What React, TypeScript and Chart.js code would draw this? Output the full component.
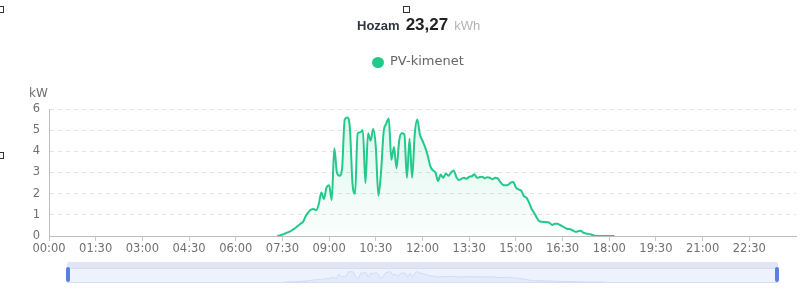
import React, { useEffect, useRef } from 'react';
import { Chart, registerables } from 'chart.js';

Chart.register(...registerables);

// time categories every 5 minutes, 00:00 .. 24:00
const timeLabels: string[] = Array.from({ length: 289 }, (_, i) => {
  const m = i * 5;
  const hh = String(Math.floor(m / 60)).padStart(2, '0');
  const mm = String(m % 60).padStart(2, '0');
  return `${hh}:${mm}`;
});

// PV output starts at 07:20 (index 88)
const pvStartIndex = 88;
const pvValues: number[] = [
  0, 0.03, 0.07, 0.12, 0.17, 0.22, 0.3, 0.38, 0.48, 0.58,
  0.68, 0.95, 1.12, 1.25, 1.27, 1.22, 1.5, 2.05, 1.75, 2.3,
  2.4, 1.7, 4.15, 3.0, 2.85, 3.2, 5.5, 5.6, 5.1, 2.5,
  2.0, 4.85, 4.9, 5.0, 2.5, 4.85, 4.5, 5.05, 4.2, 1.9,
  3.0, 4.9, 5.3, 5.55, 3.6, 4.2, 3.2, 4.5, 4.85, 4.8,
  2.75, 4.6, 2.75, 4.8, 5.5, 4.8, 4.5, 4.2, 3.8, 3.3,
  3.1, 3.0, 2.6, 2.9, 2.75, 2.95, 2.85, 3.0, 3.1, 2.8,
  2.65, 2.7, 2.75, 2.7, 2.8, 2.82, 2.92, 2.75, 2.78, 2.8,
  2.72, 2.78, 2.75, 2.68, 2.75, 2.72, 2.55, 2.42, 2.4, 2.42,
  2.52, 2.55, 2.3, 2.2, 2.15, 1.9, 1.82, 1.6, 1.3, 1.1,
  0.88, 0.7, 0.67, 0.66, 0.65, 0.62, 0.52, 0.58, 0.58, 0.52,
  0.45, 0.38, 0.33, 0.32, 0.26, 0.2, 0.22, 0.25, 0.16, 0.12,
  0.1, 0.07, 0.03, 0, 0, 0, 0, 0, 0, 0, 0,
];

const yTicks: number[] = [0, 1, 2, 3, 4, 5, 6];
const seriesName = 'PV-kimenet';
const totalLabel = 'Hozam';
const totalValue = '23,27';
const totalUnit = 'kWh';
const yUnit = 'kW';

const GREEN = '#22c98a';

function buildSeries(): (number | null)[] {
  return timeLabels.map((_, i) => {
    const k = i - pvStartIndex;
    return k >= 0 && k < pvValues.length ? pvValues[k] : null;
  });
}

export default function App() {
  const mainRef = useRef<HTMLCanvasElement | null>(null);
  const miniRef = useRef<HTMLCanvasElement | null>(null);

  useEffect(() => {
    const series = buildSeries();
    const main = new Chart(mainRef.current!, {
      type: 'line',
      data: {
        labels: timeLabels,
        datasets: [
          {
            label: seriesName,
            data: series,
            borderColor: GREEN,
            borderWidth: 2,
            pointRadius: 0,
            cubicInterpolationMode: 'monotone',
            spanGaps: false,
            fill: 'origin',
            backgroundColor: (ctx: any) => {
              const area = ctx.chart.chartArea;
              if (!area) return 'rgba(34,201,138,0.08)';
              const g = ctx.chart.ctx.createLinearGradient(0, area.top, 0, area.bottom);
              g.addColorStop(0, 'rgba(34,201,138,0.16)');
              g.addColorStop(1, 'rgba(34,201,138,0.02)');
              return g;
            },
          },
        ],
      },
      options: {
        responsive: false,
        animation: false,
        layout: { padding: { top: 109, right: 4, left: 0, bottom: 0 } },
        plugins: { legend: { display: false }, tooltip: { enabled: false }, title: { display: false } },
        scales: {
          x: {
            type: 'category',
            offset: false,
            afterFit: (s: any) => { s.height = 54; },
            grid: { drawOnChartArea: false, drawTicks: true, tickLength: 5, color: '#c8c8c8' },
            border: { display: true, color: '#bdbdbd', width: 1 },
            ticks: {
              autoSkip: false,
              maxRotation: 0,
              minRotation: 0,
              padding: 1,
              color: '#707070',
              font: { family: 'DejaVu Sans', size: 11.5 },
              callback: (_v: any, i: number) => (i % 18 === 0 && i < 288 ? timeLabels[i] : null),
            },
          },
          y: {
            min: 0,
            max: 6,
            afterFit: (s: any) => { s.width = 49; },
            afterBuildTicks: (s: any) => { s.ticks = yTicks.map((v) => ({ value: v })); },
            grid: { drawTicks: false, color: '#e3e3e3', lineWidth: 1 },
            border: { display: true, color: '#bdbdbd', width: 1, dash: [4, 4] },
            ticks: {
              padding: 9,
              color: '#707070',
              font: { family: 'DejaVu Sans', size: 11.5 },
            },
          },
        },
      },
    });

    const mini = new Chart(miniRef.current!, {
      type: 'line',
      data: {
        labels: timeLabels,
        datasets: [
          {
            data: series,
            borderColor: 'rgba(200,212,244,0.8)',
            borderWidth: 1,
            pointRadius: 0,
            fill: 'origin',
            backgroundColor: 'rgba(222,230,250,0.6)',
            cubicInterpolationMode: 'monotone',
          },
        ],
      },
      options: {
        responsive: false,
        animation: false,
        layout: { padding: 0 },
        plugins: { legend: { display: false }, tooltip: { enabled: false } },
        scales: {
          x: { display: false, offset: false },
          y: { display: false, min: 0, max: 7 },
        },
      },
    });

    return () => {
      main.destroy();
      mini.destroy();
    };
  }, []);

  const sq = (left: number, top: number): React.CSSProperties => ({
    position: 'absolute', left, top, width: 5, height: 5, border: '1px solid #333', background: '#fff',
  });

  return (
    <div style={{ position: 'fixed', left: 0, top: 0, width: 800, height: 290, background: '#fff', overflow: 'hidden' }}>
      <canvas ref={mainRef} width={800} height={290} style={{ position: 'absolute', left: 0, top: 0, width: 800, height: 290 }} />

      <div style={{ position: 'absolute', left: 357, top: 15, display: 'flex', alignItems: 'baseline', whiteSpace: 'nowrap' }}>
        <span style={{ fontFamily: 'Liberation Sans', fontWeight: 'bold', fontSize: 13, color: '#2e3640' }}>{totalLabel}</span>
        <span style={{ fontFamily: 'Liberation Sans', fontWeight: 'bold', fontSize: 17, color: '#222', marginLeft: 6 }}>{totalValue}</span>
        <span style={{ fontFamily: 'Liberation Sans', fontSize: 13, color: '#b3b3b3', marginLeft: 6 }}>{totalUnit}</span>
      </div>

      <div style={{ position: 'absolute', left: 372, top: 57, width: 12, height: 11, borderRadius: '50%', background: GREEN }} />
      <div style={{ position: 'absolute', left: 390, top: 53, fontFamily: 'DejaVu Sans', fontSize: 13, color: '#666', whiteSpace: 'nowrap' }}>{seriesName}</div>

      <div style={{ position: 'absolute', left: 29, top: 86, fontFamily: 'DejaVu Sans', fontSize: 12, color: '#707070' }}>{yUnit}</div>

      <div style={{ position: 'absolute', left: 67, top: 262, width: 711, height: 20 }}>
        <div style={{ position: 'absolute', left: 0, top: 0, width: 711, height: 6, background: '#dfe5f4', borderRadius: '2px 2px 0 0' }} />
        <div style={{ position: 'absolute', left: 0, top: 6, width: 709, height: 13, background: '#eef2fd', border: '1px solid #d5ddf0' }}>
          <canvas ref={miniRef} width={709} height={13} style={{ position: 'absolute', left: 0, top: 0, width: 709, height: 13 }} />
        </div>
        <div style={{ position: 'absolute', left: -1, top: 5, width: 4, height: 15, background: '#5b7fe0', borderRadius: 2 }} />
        <div style={{ position: 'absolute', left: 708, top: 5, width: 4, height: 15, background: '#5b7fe0', borderRadius: 2 }} />
      </div>

      <div style={sq(-3, 6)} />
      <div style={sq(403, 6)} />
      <div style={sq(-3, 152)} />
    </div>
  );
}
